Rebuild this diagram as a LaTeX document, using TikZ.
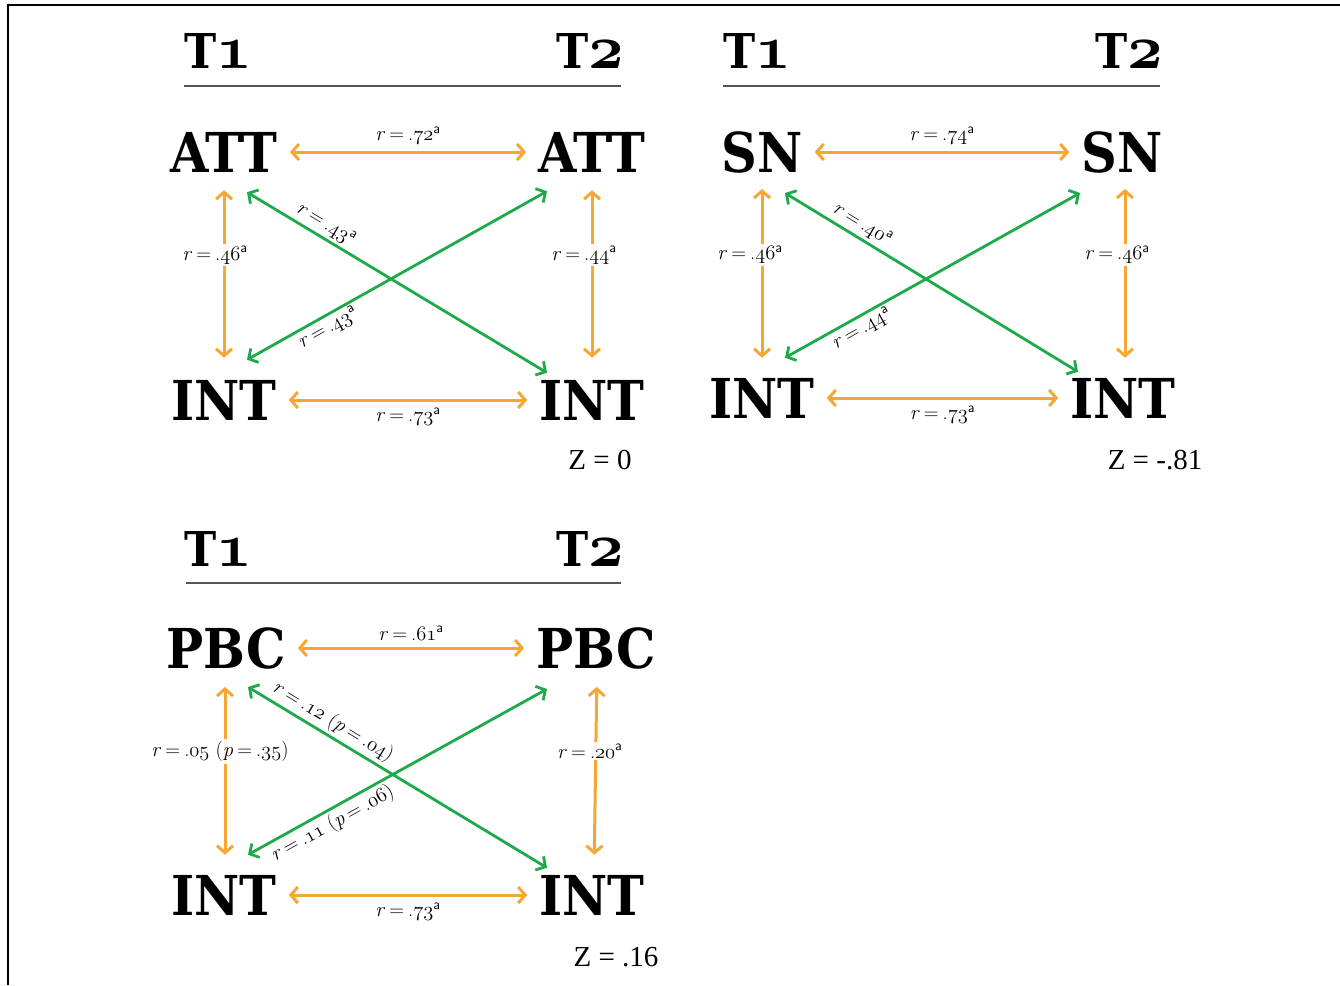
\RequirePackage{fix-cm}
\documentclass[tikz,border=0pt]{standalone}
\usepackage{fontspec}
\usetikzlibrary{arrows.meta,calc}
\newfontfamily\heavyfont{DejaVu Serif}[FakeStretch=0.9]
\newfontfamily\zfont{Liberation Serif}
\newcommand\osn[1]{{\fontencoding{OML}\fontfamily{cmm}\fontseries{m}\fontshape{it}\selectfont #1}}
\newcommand\osnb[1]{{\fontencoding{OML}\fontfamily{cmm}\fontseries{b}\fontshape{it}\selectfont #1}}
\newcommand\eq{\hspace{0.2em}=\hspace{0.2em}}
\newcommand\rlab[1]{\textit{r}\eq.\osn{#1}\textsuperscript{\sffamily a}}
\newcommand\rplab[2]{\textit{r}\eq.\osn{#1} (\textit{p}\eq.\osn{#2})}
\definecolor{orangeA}{RGB}{244,167,50}
\definecolor{greenA}{RGB}{30,170,75}
\definecolor{ruleg}{RGB}{85,85,85}
\tikzset{
  barb/.tip={Straight Barb[length=7pt,width=16pt]},
  big/.style={inner sep=0pt, font=\heavyfont\bfseries\fontsize{55}{60}\selectfont},
  thead/.style={inner sep=0pt, anchor=base, font=\heavyfont\bfseries\fontsize{48}{52}\selectfont},
  zlab/.style={inner sep=0pt, font=\zfont\fontsize{29}{32}\selectfont},
  rl/.style={inner sep=2pt, font=\fontsize{20.5}{22}\selectfont},
  vl/.style={rl, fill=white, fill opacity=0.9, text opacity=1},
  oarr/.style={draw=orangeA, line width=3pt, barb-barb},
  garr/.style={draw=greenA, line width=2.8pt, barb-barb},
  hrule/.style={draw=ruleg, line width=2pt},
}
\newcommand\tdig[1]{\fontsize{62}{62}\osnb{#1}}
\begin{document}
\begin{tikzpicture}[x=1pt,y=-1pt]
\useasboundingbox (0,0) rectangle (1340,985);
\fill[white] (0,0) rectangle (1340,985);
\draw[line width=2pt] (8,985) -- (8,5) -- (1340,5);

% ---------- Panel 1: ATT ----------
\node[thead] (p1t1) at (218,68) {T\tdig{1}};
\node[thead] (p1t2) at (590,68) {T\tdig{2}};
\draw[hrule] (184,86) -- (621,86);
\node[big] (p1a1) at (224,152) {ATT};
\node[big] (p1a2) at (592,152) {ATT};
\node[big] (p1i1) at (224,400) {INT};
\node[big] (p1i2) at (592,400) {INT};
\draw[oarr, shorten <=12pt, shorten >=12pt] (p1a1.east) -- node[rl, above=4pt] {\rlab{72}} (p1a2.west);
\draw[oarr, shorten <=12pt, shorten >=12pt] (p1i1.east) -- node[rl, below=4pt] {\rlab{73}} (p1i2.west);
\draw[oarr, shorten <=18pt, shorten >=22pt] (p1a1.south) -- node[vl, pos=0.4, xshift=-9pt] {\rlab{46}} (p1i1.north);
\draw[oarr, shorten <=18pt, shorten >=22pt] (p1a2.south) -- node[vl, pos=0.4, xshift=-8pt] {\rlab{44}} (p1i2.north);
\draw[garr] ([shift={(23,20)}]p1a1.south) -- node[rl, sloped, above=1pt, pos=0.24] {\rlab{43}} ([shift={(-45,-7)}]p1i2.north);
\draw[garr] ([shift={(23,-20)}]p1i1.north) -- node[rl, sloped, below=0pt, pos=0.25] {\rlab{43}} ([shift={(-45,19)}]p1a2.south);
\node[zlab] (p1z) at (600,460) {Z = 0};

% ---------- Panel 2: SN ----------
\node[thead] (p2t1) at (757,68) {T\tdig{1}};
\node[thead] (p2t2) at (1129,68) {T\tdig{2}};
\draw[hrule] (723,86) -- (1160,86);
\node[big] (p2s1) at (762,152) {SN};
\node[big] (p2s2) at (1122,152) {SN};
\node[big] (p2i1) at (762,398) {INT};
\node[big] (p2i2) at (1123,398) {INT};
\draw[oarr, shorten <=12pt, shorten >=12pt] (p2s1.east) -- node[rl, above=4pt] {\rlab{74}} (p2s2.west);
\draw[oarr, shorten <=12pt, shorten >=12pt] (p2i1.east) -- node[rl, below=4pt] {\rlab{73}} (p2i2.west);
\draw[oarr, shorten <=16pt, shorten >=20pt] (p2s1.south) -- node[vl, pos=0.4, xshift=-12pt] {\rlab{46}} (p2i1.north);
\draw[oarr, shorten <=16pt, shorten >=20pt] ([xshift=3pt]p2s2.south) -- node[vl, pos=0.4, xshift=-8pt] {\rlab{46}} ([xshift=2pt]p2i2.north);
\draw[garr] ([shift={(23,20)}]p2s1.south) -- node[rl, sloped, above=1pt, pos=0.24] {\textit{r}\eq.\osn{40}\textsuperscript{\sffamily a}} ([shift={(-45,-6)}]p2i2.north);
\draw[garr] ([shift={(23,-20)}]p2i1.north) -- node[rl, sloped, below=0pt, pos=0.24] {\rlab{44}} ([shift={(-42,20)}]p2s2.south);
\node[zlab] (p2z) at (1155,460) {Z = -.81};

% ---------- Panel 3: PBC ----------
\node[thead] (p3t1) at (218,566) {T\tdig{1}};
\node[thead] (p3t2) at (590,566) {T\tdig{2}};
\draw[hrule] (186,583) -- (621,583);
\node[big] (p3p1) at (226,648) {PBC};
\node[big] (p3p2) at (596,648) {PBC};
\node[big] (p3i1) at (224,895) {INT};
\node[big] (p3i2) at (592,895) {INT};
\draw[oarr, shorten <=12pt, shorten >=12pt] (p3p1.east) -- node[rl, above=4pt] {\rlab{61}} (p3p2.west);
\draw[oarr, shorten <=12pt, shorten >=12pt] (p3i1.east) -- node[rl, below=4pt] {\rlab{73}} (p3i2.west);
\draw[oarr, shorten <=18pt, shorten >=20pt] ([xshift=-1pt]p3p1.south) -- node[vl, pos=0.4, xshift=-5pt] {\rplab{05}{35}} ([xshift=1pt]p3i1.north);
\draw[oarr, shorten <=18pt, shorten >=20pt] ([xshift=1pt]p3p2.south) -- node[vl, pos=0.4, xshift=-6pt] {\rlab{20}} ([xshift=2pt]p3i2.north);
\draw[garr] ([shift={(22,18)}]p3p1.south) -- node[rl, sloped, above=0.5pt, pos=0.26] {\rplab{12}{04}} ([shift={(-45,-7)}]p3i2.north);
\draw[garr] ([shift={(24,-20)}]p3i1.north) -- node[rl, sloped, below=0.5pt, pos=0.26] {\rplab{11}{06}} ([shift={(-49,20)}]p3p2.south);
\node[zlab] (p3z) at (616,957) {Z = .16};
\end{tikzpicture}
\end{document}
